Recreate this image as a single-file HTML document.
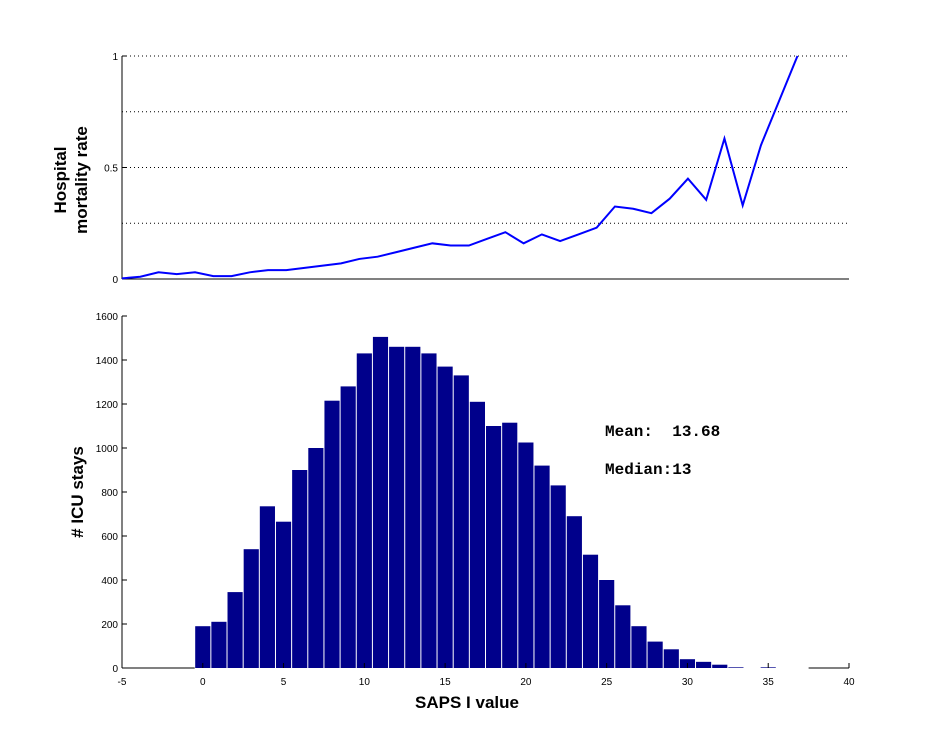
<!DOCTYPE html>
<html><head><meta charset="utf-8"><style>
body{margin:0;background:#fff;}
svg{display:block;font-family:"Liberation Sans",sans-serif;}
</style></head><body>
<svg id="chart" width="937" height="751" viewBox="0 0 937 751" xmlns="http://www.w3.org/2000/svg">
<rect width="937" height="751" fill="#fff"/>
<g id="topPanel"></g>
<g id="botPanel"></g>
<text transform="translate(66,180) rotate(-90)" text-anchor="middle" font-weight="bold" font-size="17">Hospital</text>
<text transform="translate(87,180) rotate(-90)" text-anchor="middle" font-weight="bold" font-size="17">mortality rate</text>
<text transform="translate(83,492) rotate(-90)" text-anchor="middle" font-weight="bold" font-size="17"># ICU stays</text>
<text x="467" y="708" text-anchor="middle" font-weight="bold" font-size="17">SAPS I value</text>
<text x="605" y="436" font-family="Liberation Mono,monospace" font-size="16" font-weight="bold" xml:space="preserve">Mean:  13.68</text>
<text x="605" y="474" font-family="Liberation Mono,monospace" font-size="16" font-weight="bold">Median:13</text>
</svg>
<script>
const rateX=[-5,-3.87,-2.74,-1.61,-0.48,0.65,1.78,2.91,4.04,5.17,6.3,7.43,8.56,9.69,10.82,11.95,13.08,14.21,15.34,16.47,17.6,18.73,19.86,20.99,22.12,23.25,24.38,25.51,26.64,27.77,28.9,30.03,31.16,32.29,33.42,34.55,35.68,36.81];
const rateY=[0.003,0.01,0.03,0.022,0.03,0.013,0.013,0.03,0.04,0.04,0.05,0.06,0.07,0.09,0.10,0.12,0.14,0.16,0.15,0.15,0.18,0.21,0.16,0.20,0.17,0.20,0.23,0.325,0.315,0.295,0.36,0.45,0.355,0.63,0.33,0.6,0.8,1.0];
const binX=[0,1,2,3,4,5,6,7,8,9,10,11,12,13,14,15,16,17,18,19,20,21,22,23,24,25,26,27,28,29,30,31,32,33,35];
const counts=[190,210,345,540,735,665,900,1000,1215,1280,1430,1505,1460,1460,1430,1370,1330,1210,1100,1115,1025,920,830,690,515,400,285,190,120,85,40,28,15,3,3];
const xTicks=[-5,0,5,10,15,20,25,30,35,40];
const topTicks=[0,0.5,1];
const topGrid=[0.25,0.5,0.75,1];
const botTicks=[0,200,400,600,800,1000,1200,1400,1600];
const NS="http://www.w3.org/2000/svg";
const X0=122,X1=849;
const sx=v=>X0+(v+5)/45*(X1-X0);
const syT=v=>279-v*(279-56);
const syB=v=>668-v/1600*(668-316);
function mk(p,t,a){const e=document.createElementNS(NS,t);for(const k in a)e.setAttribute(k,a[k]);p.appendChild(e);return e;}
const topG=document.getElementById('topPanel'),botG=document.getElementById('botPanel');
topGrid.forEach(v=>{const l=mk(topG,'line',{x1:X0,x2:X1,y1:syT(v),y2:syT(v),stroke:'#000','stroke-dasharray':'1,3','stroke-width':1});

});
mk(topG,'line',{x1:X0,x2:X0,y1:56,y2:279,stroke:'#000'});
mk(topG,'line',{x1:X0,x2:X1,y1:279,y2:279,stroke:'#000'});
topTicks.forEach(v=>{mk(topG,'line',{x1:X0,x2:X0+5,y1:syT(v),y2:syT(v),stroke:'#000'});
const t=mk(topG,'text',{x:X0-4,y:syT(v)+4,'text-anchor':'end','font-size':10});t.textContent=v===0.5?'0.5':String(v);

});
const path=mk(topG,'polyline',{points:rateX.map((x,i)=>sx(x)+','+syT(rateY[i])).join(' '),fill:'none',stroke:'#0000ff','stroke-width':2});


const bw=(X1-X0)/45;
binX.forEach((b,i)=>{const y=syB(counts[i]);const r=mk(botG,'rect',{x:sx(b)-bw/2+0.5,y:y,width:bw-1,height:668-y,fill:'#00008b'});

});
mk(botG,'line',{x1:X0,x2:X0,y1:316,y2:668,stroke:'#000'});
mk(botG,'line',{x1:X0,x2:sx(-0.5),y1:668,y2:668,stroke:'#000'});
mk(botG,'line',{x1:sx(37.5),x2:X1,y1:668,y2:668,stroke:'#000'});
botTicks.forEach(v=>{mk(botG,'line',{x1:X0,x2:X0+5,y1:syB(v),y2:syB(v),stroke:'#000'});
const t=mk(botG,'text',{x:X0-4,y:syB(v)+4,'text-anchor':'end','font-size':10});t.textContent=v;

});
xTicks.forEach(v=>{mk(botG,'line',{x1:sx(v),x2:sx(v),y1:668,y2:663,stroke:'#000'});
const t=mk(botG,'text',{x:sx(v),y:685,'text-anchor':'middle','font-size':10});t.textContent=v;

});
</script>
</body></html>
